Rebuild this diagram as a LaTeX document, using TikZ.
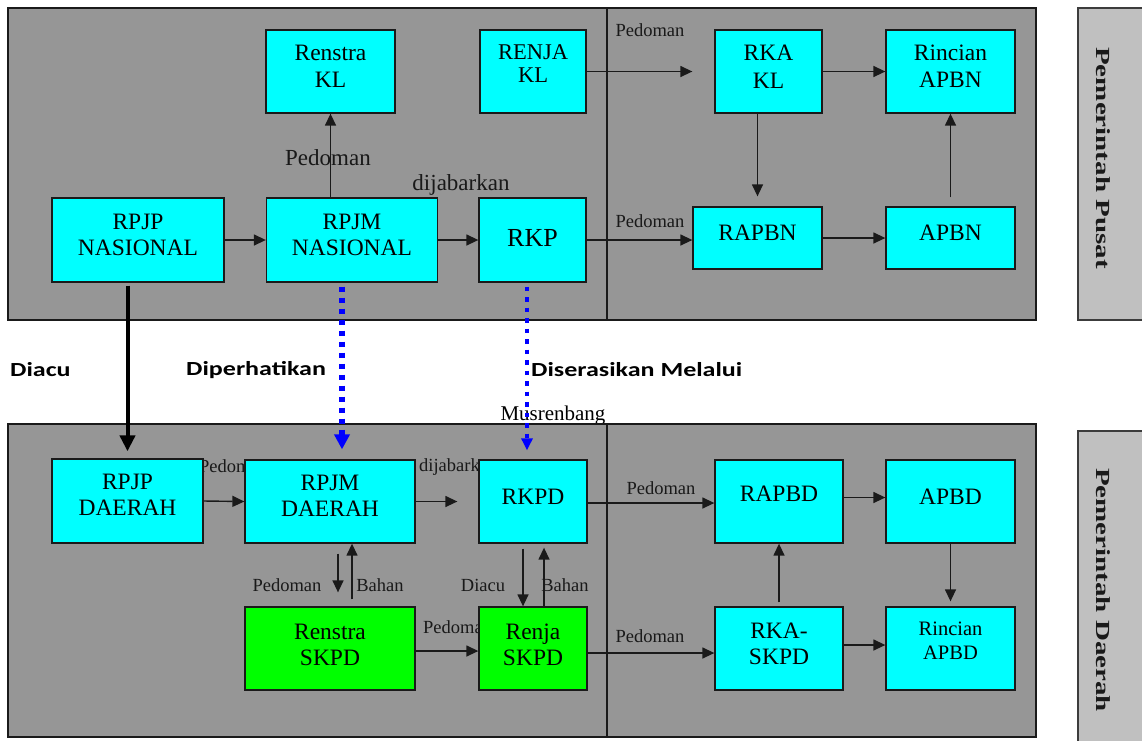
\documentclass[tikz,border=0pt]{standalone}
\usepackage{fontspec}
\setmainfont{Liberation Serif}
\newfontfamily\lblfont{Carlito}[FakeStretch=1.3]
\newfontfamily\sidefont{Liberation Serif}[FakeStretch=1.45]
\usetikzlibrary{arrows.meta}
\definecolor{panelgray}{HTML}{969696}
\definecolor{sidegray}{HTML}{C0C0C0}
\definecolor{boxcyan}{HTML}{00FFFF}
\definecolor{boxgreen}{HTML}{00FF00}
\definecolor{dotblue}{HTML}{0000FF}
\definecolor{ink}{HTML}{1A1A1A}
\begin{document}
\begin{tikzpicture}[x=1pt,y=-1pt,
  panel/.style={draw=ink, line width=1.5pt, fill=panelgray},
  sidebox/.style={draw=ink!85, line width=1.5pt, fill=sidegray},
  divider/.style={draw=ink, line width=1.3pt},
  cbox/.style={draw=ink, line width=1.3pt, fill=boxcyan, inner sep=0pt},
  gbox/.style={cbox, fill=boxgreen},
  btext/.style={font=\fontsize{23.5}{26}\selectfont, align=center, inner sep=0pt},
  stext/.style={font=\fontsize{20.5}{24}\selectfont, align=center, inner sep=0pt},
  slbl/.style={font=\fontsize{18.5}{20}\selectfont, inner sep=0pt, text=black!90},
  mlbl/.style={font=\fontsize{23}{26}\selectfont, inner sep=0pt, text=black!90},
  blbl/.style={font=\lblfont\bfseries\fontsize{20}{24}\selectfont, inner sep=0pt, anchor=west},
  sidelbl/.style={font=\sidefont\bfseries\fontsize{20}{24}\selectfont, inner sep=0pt, rotate=-90, text=ink},
  arr/.style={draw=ink, line width=1.4pt, -{Triangle[length=12pt,width=11pt]}},
  thickarr/.style={draw=black, line width=4pt, -{Triangle[length=16pt,width=15pt]}},
  bluearr/.style={draw=dotblue, line width=5.5pt, dash pattern=on 5pt off 6pt, -{Triangle[length=15pt,width=15pt]}},
  bluearrthin/.style={draw=dotblue, line width=3.5pt, dash pattern=on 4.5pt off 6pt, -{Triangle[length=12pt,width=11pt]}}
]
\useasboundingbox (0,0) rectangle (1142,740);
\fill[white] (0,0) rectangle (1142,740);

% ---------- panels ----------
\draw[panel] (8,8) rectangle (1036,320);
\draw[divider] (607,8) -- (607,320);
\node[font=\fontsize{21}{24}\selectfont, inner sep=0pt] (mus) at (553,415) {Musrenbang};
\draw[panel] (8,424) rectangle (1036,737);
\draw[divider] (607,424) -- (607,737);

\draw[sidebox] (1078,8) rectangle (1150,320);
\draw[sidebox] (1078,431) rectangle (1150,750);
\node[sidelbl] (pusat) at (1103,158) {Pemerintah Pusat};
\node[sidelbl] (daerah) at (1103,590) {Pemerintah Daerah};

% ---------- labels between panels ----------
\node[blbl] (diacu) at (10,370) {Diacu};
\node[blbl] (diperh) at (186,370) {Diperhatikan};
\node[blbl] (diseras) at (531,370) {Diserasikan Melalui};

% ---------- edge labels (under boxes) ----------
\node[mlbl] (lpedA) at (328,158) {Pedoman};
\node[mlbl] (ldijA) at (461,185) {dijabarkan};
\node[slbl] (lpedB) at (650,30) {Pedoman};
\node[slbl] (lpedC) at (650,221) {Pedoman};
\node[slbl, anchor=west] (lpedD) at (199,466) {Pedoman};
\node[slbl, anchor=west] (ldijB) at (419,467) {dijabarkan};
\node[slbl] (lpedE) at (287,585) {Pedoman};
\node[slbl] (lbahA) at (380,585) {Bahan};
\node[slbl] (ldiacu) at (483,585) {Diacu};
\node[slbl] (lbahB) at (565,585) {Bahan};
\node[slbl, anchor=west] (lpedF) at (423,627) {Pedoman};
\node[slbl] (lpedG) at (661,488) {Pedoman};
\node[slbl] (lpedH) at (650,636) {Pedoman};

% ---------- boxes: top ----------
\node[cbox, minimum width=129pt, minimum height=83pt] (rensk) at (330.5,71.5) {};
\node[cbox, minimum width=106pt, minimum height=83pt] (renjk) at (533,71.5) {};
\node[cbox, minimum width=107pt, minimum height=83pt] (rkakl) at (768.5,71.5) {};
\node[cbox, minimum width=129pt, minimum height=83pt] (rinb) at (950.5,71.5) {};
\node[cbox, minimum width=172pt, minimum height=84pt] (rpjpn) at (138,240) {};
\node[cbox, minimum width=171pt, minimum height=84pt] (rpjmn) at (352,240) {};
\node[cbox, minimum width=107pt, minimum height=84pt] (rkp) at (532.5,240) {};
\node[cbox, minimum width=129pt, minimum height=62pt] (rapbn) at (757.5,238) {};
\node[cbox, minimum width=129pt, minimum height=62pt] (apbn) at (950.5,238) {};

% ---------- boxes: bottom ----------
\node[cbox, minimum width=151pt, minimum height=84pt] (rpjpd) at (127.5,501) {};
\node[cbox, minimum width=170pt, minimum height=83pt] (rpjmd) at (330,501.5) {};
\node[cbox, minimum width=108pt, minimum height=83pt] (rkpd) at (533,501.5) {};
\node[gbox, minimum width=170pt, minimum height=83pt] (rensskpd) at (330,648.5) {};
\node[gbox, minimum width=108pt, minimum height=83pt] (renjskpd) at (533,648.5) {};
\node[cbox, minimum width=128pt, minimum height=83pt] (rapbd) at (779,501.5) {};
\node[cbox, minimum width=129pt, minimum height=83pt] (apbd) at (950.5,501.5) {};
\node[cbox, minimum width=128pt, minimum height=83pt] (rkaskpd) at (779,648.5) {};
\node[cbox, minimum width=129pt, minimum height=83pt] (rinapbd) at (950.5,648.5) {};

% ---------- box texts ----------
\node[btext, yshift=5pt, font=\fontsize{23.5}{27}\selectfont] (trensk) at (rensk) {Renstra\\KL};
\node[btext, yshift=8pt, font=\fontsize{22.5}{23}\selectfont] (trenjk) at (renjk) {RENJA\\KL};
\node[btext, yshift=5pt, font=\fontsize{23.5}{28}\selectfont] (trkakl) at (rkakl) {RKA\\KL};
\node[btext, yshift=5pt, font=\fontsize{23.5}{27}\selectfont] (trinb) at (rinb) {Rincian\\APBN};
\node[btext, yshift=5pt] (trpjpn) at (rpjpn) {RPJP\\NASIONAL};
\node[btext, yshift=5pt] (trpjmn) at (rpjmn) {RPJM\\NASIONAL};
\node[btext, yshift=2pt, font=\fontsize{26}{28}\selectfont] (trkp) at (rkp) {RKP};
\node[btext, yshift=5pt] (trapbn) at (rapbn) {RAPBN};
\node[btext, yshift=5pt] (tapbn) at (apbn) {APBN};

\node[btext, yshift=6.5pt] (trpjpd) at (rpjpd) {RPJP\\DAERAH};
\node[btext, yshift=6pt] (trpjmd) at (rpjmd) {RPJM\\DAERAH};
\node[btext, yshift=5pt] (trkpd) at (rkpd) {RKPD};
\node[btext, yshift=4pt] (trensskpd) at (rensskpd) {Renstra\\SKPD};
\node[btext, yshift=4pt] (trenjskpd) at (renjskpd) {Renja\\SKPD};
\node[btext, yshift=8pt] (trapbd) at (rapbd) {RAPBD};
\node[btext, yshift=5pt] (tapbd) at (apbd) {APBD};
\node[btext, yshift=4.5pt] (trkaskpd) at (rkaskpd) {RKA-\\SKPD};
\node[stext, yshift=7.5pt] (trinapbd) at (rinapbd) {Rincian\\APBD};

% ---------- connectors: top ----------
\draw[arr] (rpjpn.east) -- (rpjmn.west);
\draw[arr] (rpjmn.east) -- (rkp.west);
\draw[arr] (rensk.south |- rpjmn.north) -- (rensk.south);
\draw[arr, shorten >=22pt] (renjk.east) -- (rkakl.west);
\draw[arr] (rkakl.east) -- (rinb.west);
\draw[arr, shorten >=10pt] (rapbn.north |- rkakl.south) -- (rapbn.north);
\draw[arr] (rkp.east) -- (rkp.east -| rapbn.west);
\draw[arr] (rapbn.east) -- (apbn.west);
\draw[arr, shorten <=9pt] (apbn.north) -- (rinb.south);

% ---------- connectors: between levels ----------
\draw[thickarr, shorten <=3pt, shorten >=7pt] (rpjpd.north |- rpjpn.south) -- (rpjpd.north);
\draw[bluearr, shorten <=4pt, shorten >=10pt] ([xshift=-10pt]rpjmn.south) -- ([xshift=12pt]rpjmd.north);
\draw[bluearrthin, shorten <=4pt, shorten >=9pt] ([xshift=-5.5pt]rkp.south) -- ([xshift=-6pt]rkpd.north);

% ---------- connectors: bottom ----------
\draw[arr] (rpjpd.east) -- (rpjmd.west);
\draw[arr, shorten >=21pt] (rpjmd.east) -- (rkpd.west);
\draw[arr, shorten <=10pt, shorten >=14pt] ([xshift=8pt]rpjmd.south) -- ([xshift=8pt]rensskpd.north);
\draw[arr, shorten <=7pt] ([xshift=22pt]rensskpd.north) -- ([xshift=22pt]rpjmd.south);
\draw[arr, shorten <=5pt] ([xshift=-10pt]rkpd.south) -- ([xshift=-10pt]renjskpd.north);
\draw[arr, shorten >=4pt] ([xshift=11pt]renjskpd.north) -- ([xshift=11pt]rkpd.south);
\draw[arr] ([yshift=-2.5pt]rensskpd.east) -- ([yshift=-2.5pt]renjskpd.west);
\draw[arr] ([yshift=-1.5pt]rkpd.east) -- ([yshift=-1.5pt]rapbd.west);
\draw[arr] ([yshift=4pt]rapbd.east) -- ([yshift=4pt]apbd.west);
\draw[arr, shorten <=4pt] (rkaskpd.north) -- (rapbd.south);
\draw[arr, shorten >=5pt] (apbd.south) -- (rinapbd.north);
\draw[arr] ([yshift=3.5pt]rkaskpd.east) -- ([yshift=3.5pt]rinapbd.west);
\draw[arr] ([yshift=-4.5pt]renjskpd.east) -- ([yshift=-4.5pt]rkaskpd.west);
\end{tikzpicture}
\end{document}
